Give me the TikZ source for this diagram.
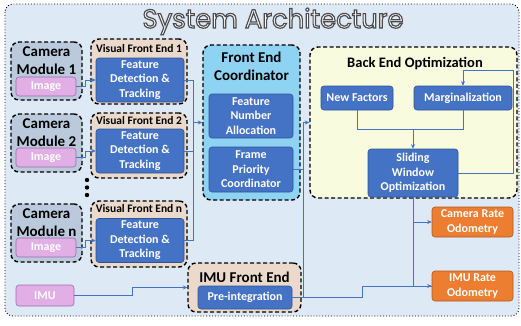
\documentclass[tikz,border=0pt]{standalone}
\usepackage{fontspec}
\setmainfont{Carlito}
\newfontfamily\titlefont{Poppins}
\usepackage{graphicx}
\usetikzlibrary{arrows.meta}
\definecolor{bgc}{HTML}{DEE9F6}
\definecolor{camfill}{HTML}{BACADC}
\definecolor{vfefill}{HTML}{EBDACB}
\definecolor{fecfill}{HTML}{8FD3F2}
\definecolor{befill}{HTML}{F9FBDE}
\definecolor{bluefill}{HTML}{4472C4}
\definecolor{blueline}{HTML}{2F5597}
\definecolor{orfill}{HTML}{ED7D31}
\definecolor{orline}{HTML}{AE5A21}
\definecolor{pkfill}{HTML}{E2AEE6}
\definecolor{pkline}{HTML}{9A6FA6}
\definecolor{conn}{HTML}{4472C4}
\newcommand\mytitle{\resizebox{261pt}{20pt}{\special{pdf:literal direct 0.3 0.3 0.3 RG 0.45 w 2 Tr}\titlefont System Architecture\special{pdf:literal direct 0 Tr}}}
\begin{document}
\begin{tikzpicture}[x=1pt,y=-1pt,
  dbox/.style={draw=black, line width=1.4pt, dash pattern=on 4pt off 2.5pt, rounded corners=8pt, inner sep=0pt},
  bbox/.style={draw=blueline, fill=bluefill, rounded corners=3pt, line width=0.6pt, text=white, align=center, inner sep=0pt, font=\fontsize{12}{14.5}\selectfont\bfseries},
  obox/.style={bbox, draw=orline, fill=orfill},
  pbox/.style={bbox, draw=pkline, fill=pkfill},
  lbl/.style={anchor=base, inner sep=0pt, font=\fontsize{15}{18}\selectfont\bfseries},
  slbl/.style={anchor=base, inner sep=0pt, font=\fontsize{11.5}{14}\selectfont\bfseries},
  cn/.style={draw=conn, line width=1pt},
  ar/.style={cn, -{Stealth[length=4.5pt,width=4pt]}}]
\useasboundingbox (0,0) rectangle (521,325);
% outer frame
\draw[fill=bgc, draw=black, line width=0.9pt, dotted, rounded corners=8pt] (5,4) rectangle (519,316);
% title
\node[anchor=base, inner sep=0pt, text=white] (title) at (273,28) {\mytitle};

% camera modules
\node[dbox, fill=camfill, minimum width=71pt, minimum height=58pt] (cam1) at (46.5,71) {};
\node[dbox, fill=camfill, minimum width=71pt, minimum height=58pt] (cam2) at (46.5,143) {};
\node[dbox, fill=camfill, minimum width=71pt, minimum height=58pt] (camn) at (46.5,233) {};
\node[lbl] (c1a) at (46.5,56) {Camera};
\node[lbl] (c1b) at (46.5,74) {Module 1};
\node[lbl] (c2a) at (46.5,128) {Camera};
\node[lbl] (c2b) at (46.5,146) {Module 2};
\node[lbl] (cna) at (46.5,218) {Camera};
\node[lbl] (cnb) at (46.5,236) {Module n};
\node[pbox, minimum width=60pt, minimum height=19pt] (img1) at (46,86.5) {Image};
\node[pbox, minimum width=60pt, minimum height=19pt] (img2) at (46,157.5) {Image};
\node[pbox, minimum width=60pt, minimum height=19pt] (imgn) at (46,247.5) {Image};

% dots
\fill (87,180) circle (2.2pt) (87,187.5) circle (2.2pt) (87,195) circle (2.2pt);

% visual front ends
\node[dbox, fill=vfefill, minimum width=96pt, minimum height=65pt] (vfe1) at (139,71.5) {};
\node[dbox, fill=vfefill, minimum width=96pt, minimum height=65pt] (vfe2) at (139,145.5) {};
\node[dbox, fill=vfefill, minimum width=96pt, minimum height=66pt] (vfen) at (139,234) {};
\node[slbl] (v1l) at (139,52) {Visual Front End 1};
\node[slbl] (v2l) at (139,124) {Visual Front End 2};
\node[slbl] (vnl) at (139,212) {Visual Front End n};
\node[bbox, minimum width=88pt, minimum height=44pt] (fd1) at (140,80) {Feature\\Detection \&\\Tracking};
\node[bbox, minimum width=88pt, minimum height=44pt] (fd2) at (140,151) {Feature\\Detection \&\\Tracking};
\node[bbox, minimum width=88pt, minimum height=44pt] (fdn) at (140,240.5) {Feature\\Detection \&\\Tracking};

% front end coordinator
\node[dbox, fill=fecfill, minimum width=97pt, minimum height=155pt] (fec) at (251.5,122.5) {};
\node[lbl] (fecl1) at (251.5,62) {Front End};
\node[lbl] (fecl2) at (251.5,80) {Coordinator};
\node[bbox, minimum width=84pt, minimum height=44pt] (fna) at (251,116) {Feature\\Number\\Allocation};
\node[bbox, minimum width=84pt, minimum height=45pt] (fpc) at (251,169.5) {Frame\\Priority\\Coordinator};

% back end
\node[dbox, fill=befill, minimum width=207pt, minimum height=151pt] (be) at (413.5,122.5) {};
\node[lbl, font=\fontsize{14.5}{17}\selectfont\bfseries] (bel) at (415,67) {Back End Optimization};
\node[bbox, minimum width=72pt, minimum height=24pt] (nf) at (357,98) {New Factors};
\node[bbox, minimum width=98pt, minimum height=24pt] (mg) at (463,98) {Marginalization};
\node[bbox, minimum width=90pt, minimum height=48pt] (sw) at (413,173) {Sliding\\Window\\Optimization};

% odometry
\node[obox, minimum width=81pt, minimum height=30pt] (co) at (472.5,222) {Camera Rate\\Odometry};
\node[obox, minimum width=81pt, minimum height=30pt] (io) at (472.5,286) {IMU Rate\\Odometry};

% IMU
\node[pbox, minimum width=58pt, minimum height=21pt] (imu) at (45,295.5) {IMU};
\node[dbox, fill=vfefill, minimum width=113pt, minimum height=49pt] (ife) at (244.5,287.5) {};
\node[lbl] (ifel) at (244.5,282) {IMU Front End};
\node[bbox, minimum width=94pt, minimum height=23pt] (pre) at (245,297.5) {Pre-integration};

% connectors
\draw[ar] (img1.east) -- ++(9,0) |- (fd1.west);
\draw[ar] (img2.east) -- ++(9,0) |- (fd2.west);
\draw[ar] (imgn.east) -- ++(9,0) |- (fdn.west);
\coordinate (vb) at (193,0);
\draw[cn] (fd1.east) -| (vb |- fdn.east) -- (fdn.east);
\draw[cn] (fd2.east) -- (vb |- fd2.east);
\draw[ar] (vb |- fec.west) -- (fec.west);
\coordinate (vb2) at (303,0);
\coordinate (vb3) at (362,0);
\draw[cn] (fpc.east) -- (vb2 |- fpc.east);
\draw[cn] (pre.east) -- (vb3 |- pre.east) |- (io.west);
\draw[ar] (vb2 |- pre.east) -- (vb2 |- be.west) -- (be.west);
\coordinate (jn) at (357,129);
\draw[cn] (nf.south) |- (jn) -| (mg.south);
\draw[ar] (sw.north |- jn) -- (sw.north);
\coordinate (fb) at (513,70);
\draw[ar] (sw.east) -| (fb) -| (mg.north);
\draw[cn] (sw.south) -- (sw.south |- io.west);
\draw[ar] (sw.south |- co.west) -- (co.west);
\draw[ar] (sw.south |- io.west) -- (io.west);
\draw[ar] (imu.east) -- (132,295.5) |- (ife.west);
\end{tikzpicture}
\end{document}
